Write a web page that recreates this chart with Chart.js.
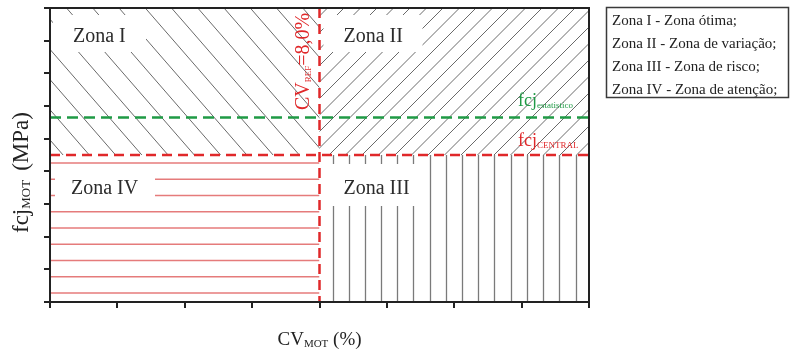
<!DOCTYPE html>
<html><head><meta charset="utf-8">
<script src="https://cdn.jsdelivr.net/npm/chart.js@4.4.1/dist/chart.umd.min.js"></script>
<style>html,body{margin:0;padding:0;background:#fff;}canvas{display:block;}</style>
</head><body>
<canvas id="c" width="792" height="350"></canvas>
<script>
// ---------- data ----------
const cvRange = [0, 16];          // CV_MOT (%) axis extent
const fcjRange = [0, 9];          // fcj_MOT (MPa) axis extent
const cvTickStep = 2;
const fcjTickStep = 1;
const cvRef = 8.0;                // CV_REF = 8,0 %
const fcjCentral = 4.5;           // fcj_CENTRAL
const fcjEstatistico = 5.65;      // fcj_estatistico
const zoneNames = ['Zona I', 'Zona II', 'Zona III', 'Zona IV'];
const legendLines = ['Zona I - Zona ótima;', 'Zona II - Zona de variação;', 'Zona III - Zona de risco;', 'Zona IV - Zona de atenção;'];
const refLabelText = ['CV', 'REF', '=8,0%'];
const estLabelText = ['fcj', 'estatistico'];
const centralLabelText = ['fcj', 'CENTRAL'];
const xTitleText = ['CV', 'MOT', ' (%)'];
const yTitleText = ['fcj', 'MOT', '(MPa)'];

// ---------- styles ----------
const RED = '#e0282a', GREEN = '#1f9a45';
const FONT = '"Liberation Serif", "Times New Roman", serif';

function drawRich(ctx, x, y, parts, color, rot) {
  ctx.save();
  ctx.translate(x, y);
  if (rot) ctx.rotate(rot);
  ctx.fillStyle = color;
  ctx.textBaseline = 'alphabetic';
  ctx.textAlign = 'left';
  let cx = 0;
  for (const p of parts) {
    cx += p.gap || 0;
    ctx.font = p.size + 'px ' + FONT;
    ctx.fillText(p.t, cx, p.dy || 0);
    cx += ctx.measureText(p.t).width;
  }
  ctx.restore();
  return cx;
}

const zonePlugin = {
  id: 'zones',
  beforeDatasetsDraw(chart) {
    const ctx = chart.ctx, xs = chart.scales.x, ys = chart.scales.y;
    const L = xs.getPixelForValue(cvRange[0]), R = xs.getPixelForValue(cvRange[1]);
    const M = xs.getPixelForValue(cvRef);
    const T = ys.getPixelForValue(fcjRange[1]), B = ys.getPixelForValue(fcjRange[0]);
    const C = ys.getPixelForValue(fcjCentral);
    const y0 = C - 7;
    function clipped(x1, y1, x2, y2, fn) {
      ctx.save(); ctx.beginPath(); ctx.rect(x1, y1, x2 - x1, y2 - y1); ctx.clip(); fn(); ctx.restore();
    }
    // Zona I : "\" hatch
    clipped(L, T, M, C, () => {
      ctx.strokeStyle = '#6a6a6a'; ctx.lineWidth = 1;
      const s = 1.15, p = 26.25;
      ctx.beginPath();
      for (let k = -20; k < 40; k++) {
        const x0 = M - k * p;
        ctx.moveTo(x0 + (T - 2 - y0) / s, T - 2);
        ctx.lineTo(x0 + (C + 2 - y0) / s, C + 2);
      }
      ctx.stroke();
    });
    // Zona II : "/" hatch
    clipped(M, T, R, C, () => {
      ctx.strokeStyle = '#6a6a6a'; ctx.lineWidth = 1;
      const s = 1.0, p = 16.5;
      ctx.beginPath();
      for (let k = -20; k < 60; k++) {
        const x0 = M + k * p;
        ctx.moveTo(x0 + (y0 - (T - 2)) / s, T - 2);
        ctx.lineTo(x0 - (C + 2 - y0) / s, C + 2);
      }
      ctx.stroke();
    });
    // Zona III : vertical hatch
    clipped(M, C, R, B, () => {
      ctx.strokeStyle = '#7a7a7a'; ctx.lineWidth = 1.3;
      ctx.beginPath();
      for (let x = M + 13; x < R - 5; x += 16.2) {
        ctx.moveTo(Math.round(x) + 0.5, C); ctx.lineTo(Math.round(x) + 0.5, B);
      }
      ctx.stroke();
    });
    // Zona IV : horizontal red hatch
    clipped(L, C, M, B, () => {
      ctx.strokeStyle = 'rgba(222,90,90,0.8)'; ctx.lineWidth = 1.6;
      ctx.beginPath();
      for (let y = C + 8; y < B - 5; y += 16.25) {
        ctx.moveTo(L, y); ctx.lineTo(M, y);
      }
      ctx.stroke();
    });
    // white label boxes
    ctx.fillStyle = '#fff';
    const boxes = [
      [L + 3, T + 7, L + 96, T + 44],
      [M + 4, T + 7, M + 103, T + 44],
      [M + 6, C + 9, M + 101, C + 51],
      [L + 5, C + 16, L + 105, C + 49]
    ];
    boxes.forEach(b => ctx.fillRect(b[0], b[1], b[2] - b[0], b[3] - b[1]));
    ctx.restore();
  },
  afterDraw(chart) {
    const ctx = chart.ctx, xs = chart.scales.x, ys = chart.scales.y;
    const L = xs.getPixelForValue(cvRange[0]), R = xs.getPixelForValue(cvRange[1]);
    const M = xs.getPixelForValue(cvRef);
    const T = ys.getPixelForValue(fcjRange[1]), B = ys.getPixelForValue(fcjRange[0]);
    const C = ys.getPixelForValue(fcjCentral);
    const G = ys.getPixelForValue(fcjEstatistico);
    const ZC = '#2b2b2b';
    drawRich(ctx, L + 23, T + 34, [{t: zoneNames[0], size: 20}], ZC);
    drawRich(ctx, M + 24, T + 34, [{t: zoneNames[1], size: 20}], ZC);
    drawRich(ctx, M + 24, C + 39, [{t: zoneNames[2], size: 20}], ZC);
    drawRich(ctx, L + 21, C + 39, [{t: zoneNames[3], size: 20}], ZC);
    // reference line labels
    drawRich(ctx, M - 11, T + 102, [{t: refLabelText[0], size: 20}, {t: refLabelText[1], size: 9, dy: 2}, {t: refLabelText[2], size: 20}], RED, -Math.PI / 2);
    drawRich(ctx, R - 71, G - 11, [{t: estLabelText[0], size: 18}, {t: estLabelText[1], size: 9, dy: 2}], GREEN);
    drawRich(ctx, R - 71, C - 9, [{t: centralLabelText[0], size: 18}, {t: centralLabelText[1], size: 9, dy: 2}], RED);
    // axis titles
    drawRich(ctx, (L + R) / 2 - 42, B + 43, [{t: xTitleText[0], size: 19}, {t: xTitleText[1], size: 11, dy: 2}, {t: xTitleText[2], size: 19}], '#222');
    drawRich(ctx, L - 22, (T + B) / 2 + 78, [{t: yTitleText[0], size: 23}, {t: yTitleText[1], size: 13, dy: 2}, {t: yTitleText[2], size: 23, gap: 9}], '#222', -Math.PI / 2);
    // legend box
    ctx.save();
    ctx.strokeStyle = '#3a3a3a'; ctx.lineWidth = 1.5;
    ctx.strokeRect(606.5, 7.5, 182, 90);
    ctx.restore();
    legendLines.forEach((s, i) => drawRich(ctx, 612, 25 + i * 23, [{t: s, size: 15}], '#222'));
  }
};

const lineDefaults = {showLine: true, pointRadius: 0, borderWidth: 2.5, fill: false, xAxisID: 'x', yAxisID: 'y'};
const datasets = [
  {...lineDefaults, label: 'fcj estatistico', data: [{x: cvRange[0], y: fcjEstatistico}, {x: cvRange[1], y: fcjEstatistico}], borderColor: GREEN, borderDash: [11, 6]},
  {...lineDefaults, label: 'fcj CENTRAL', data: [{x: cvRange[0], y: fcjCentral}, {x: cvRange[1], y: fcjCentral}], borderColor: RED, borderDash: [10, 6]},
  {...lineDefaults, label: 'CV REF', data: [{x: cvRef, y: fcjRange[1]}, {x: cvRef, y: fcjRange[0]}], borderColor: RED, borderDash: [10, 6]}
];

const axisGrid = {display: true, drawOnChartArea: false, drawTicks: true, tickLength: 6, lineWidth: 2, tickWidth: 2, color: '#222', tickColor: '#222'};
const axisBorder = {display: true, color: '#222', width: 2, z: 1};
const hiddenGrid = {display: false, drawTicks: false};

new Chart(document.getElementById('c'), {
  type: 'scatter',
  data: {datasets},
  options: {
    responsive: false, animation: false, devicePixelRatio: 1,
    layout: {padding: {left: 44, right: 203, top: 8, bottom: 42}},
    plugins: {legend: {display: false}, tooltip: {enabled: false}, title: {display: false}},
    scales: {
      x: {type: 'linear', position: 'bottom', min: cvRange[0], max: cvRange[1], ticks: {display: false, stepSize: cvTickStep}, grid: axisGrid, border: axisBorder},
      y: {type: 'linear', position: 'left', min: fcjRange[0], max: fcjRange[1], ticks: {display: false, stepSize: fcjTickStep}, grid: axisGrid, border: axisBorder},
      x2: {type: 'linear', position: 'top', min: cvRange[0], max: cvRange[1], ticks: {display: false}, grid: hiddenGrid, border: axisBorder},
      y2: {type: 'linear', position: 'right', min: fcjRange[0], max: fcjRange[1], ticks: {display: false}, grid: hiddenGrid, border: axisBorder}
    }
  },
  plugins: [zonePlugin]
});
</script>
</body></html>
